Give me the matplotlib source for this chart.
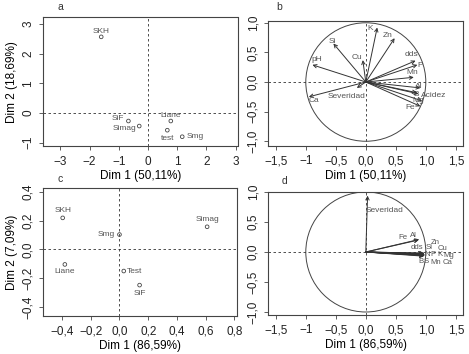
import numpy as np
import matplotlib
matplotlib.use("Agg")
import matplotlib.pyplot as plt
from matplotlib.patches import Circle

plt.rcParams['font.family'] = ['Liberation Sans', 'DejaVu Sans']

# ---- panel a : individuos, PCA 1 ----
ind_a = ['SKH', 'SiF', 'Simag', 'Liane', 'test', 'Smg']
ind_a_x = [-1.60, -0.67, -0.30, 0.78, 0.66, 1.17]
ind_a_y = [2.57, -0.27, -0.44, -0.27, -0.58, -0.80]

# ---- panel b : variables, PCA 1 ----
var_b = ['K', 'Zn', 'Si', 'Cu', 'pH', 'dds', 'P', 'Mn', 'Al', 'B',
         'Acidez', 'Mg', 'Fe', 'Ca', 'Severidad']
var_b_x = [0.19, 0.48, -0.54, -0.05, -0.89, 0.83, 0.86, 0.80, 0.91, 0.85,
           0.88, 0.94, 0.91, -0.95, -0.15]
var_b_y = [0.92, 0.74, 0.65, 0.37, 0.29, 0.36, 0.29, 0.08, -0.10, -0.18,
           -0.20, -0.32, -0.41, -0.25, -0.10]

# ---- panel c : individuos, PCA 2 ----
ind_c = ['SKH', 'Simag', 'Smg', 'Liane', 'Test', 'SiF']
ind_c_x = [-0.395, 0.61, 0.0, -0.38, 0.03, 0.14]
ind_c_y = [0.22, 0.158, 0.104, -0.104, -0.15, -0.248]

# ---- panel d : variables, PCA 2 ----
var_d = ['Severidad', 'Fe', 'Al', 'dds', 'Si', 'Zn', 'Cu', 'N', 'P', 'K',
         'Mg', 'B', 'S', 'Mn', 'Ca']
var_d_x = [0.03, 0.88, 0.89, 0.95, 0.97, 0.98, 0.98, 0.98, 0.98, 0.98,
           0.99, 0.97, 0.97, 0.98, 0.98]
var_d_y = [0.94, 0.20, 0.21, -0.02, -0.02, -0.03, -0.04, -0.04, -0.05, -0.04,
           -0.05, -0.07, -0.06, -0.06, -0.05]

# label placement (offsets in points from the marker / arrow tip)
off_a = [(0, 4, 'center'), (-3, 1.5, 'right'), (-2, -2, 'right'), (0, 4, 'center'),
         (0, -6, 'center'), (3, 0, 'left')]
off_c = [(0, 5, 'center'), (0, 5, 'center'), (-3, 0, 'right'), (0, -5, 'center'),
         (2, 0, 'left'), (0, -6, 'center')]
lab_b = {'K': (0.08, 0.90), 'Zn': (0.37, 0.78), 'Si': (-0.55, 0.69), 'Cu': (-0.14, 0.41),
         'pH': (-0.81, 0.38), 'dds': (0.76, 0.46), 'P': (0.90, 0.28), 'Mn': (0.78, 0.16),
         'Al': (0.88, -0.07), 'B': (0.84, -0.21), 'Acidez': (1.13, -0.22), 'Mg': (0.87, -0.31),
         'Fe': (0.74, -0.43), 'Ca': (-0.86, -0.32), 'Severidad': (-0.32, -0.25)}
lab_d = {'Severidad': (0.32, 0.69), 'Fe': (0.62, 0.24), 'Al': (0.79, 0.27), 'dds': (0.86, 0.07),
         'Si': (1.06, 0.07), 'Zn': (1.16, 0.15), 'Cu': (1.28, 0.06), 'N': (1.02, -0.04),
         'P': (1.12, -0.04), 'K': (1.23, -0.04), 'Mg': (1.39, -0.06), 'B': (0.92, -0.16),
         'S': (1.01, -0.16), 'Mn': (1.16, -0.17), 'Ca': (1.36, -0.18)}

W, H = 469, 354
fig = plt.figure(figsize=(W / 100, H / 100), dpi=100)

def make_ax(x0, y0, x1, y1):
    # pixel box (from top-left) -> figure axes
    return fig.add_axes([x0 / W, 1 - y1 / H, (x1 - x0) / W, (y1 - y0) / H])

frame = '#444444'
txt = '#555555'

def style(ax, xt, xl, yt, yl, xlim, ylim):
    ax.set_xlim(*xlim)
    ax.set_ylim(*ylim)
    ax.set_xticks(xt)
    ax.set_xticklabels(xl)
    ax.set_yticks(yt)
    ax.set_yticklabels(yl, rotation=90, va='center')
    ax.tick_params(length=3, width=0.6, color=frame, labelsize=8.5, pad=3.5,
                   labelcolor='#222222')
    for s in ax.spines.values():
        s.set_color(frame)
        s.set_linewidth(0.8)
    ax.axhline(0, color='#333333', lw=0.6, ls=(0, (3, 3)))
    ax.axvline(0, color='#333333', lw=0.6, ls=(0, (3, 3)))

def fmt(v):
    return f"{v:.1f}".replace('.', ',').replace('-', '\u2212')

ax_a = make_ax(43.3, 17.3, 237.5, 146.5)
ax_b = make_ax(268.3, 21, 463.3, 146)
ax_c = make_ax(43.3, 188, 237.3, 316)
ax_d = make_ax(268.3, 192, 463.3, 315)

# panel a
style(ax_a, range(-3, 4), [str(v).replace('-', '\u2212') for v in range(-3, 4)],
      range(-1, 4), [str(v).replace('-', '\u2212') for v in range(-1, 4)],
      (-3.58, 3.06), (-1.13, 3.23))
ax_a.scatter(ind_a_x, ind_a_y, s=7, facecolors='none', edgecolors='#444444', lw=0.6)
for n, x, y, (dx, dy, ha) in zip(ind_a, ind_a_x, ind_a_y, off_a):
    ax_a.annotate(n, (x, y), xytext=(dx, dy), textcoords='offset points',
                  ha=ha, va='center', fontsize=6, color=txt)
ax_a.set_xlabel('Dim 1 (50,11%)', fontsize=8.5, labelpad=2)
ax_a.set_ylabel('Dim 2 (18,69%)', fontsize=8.5, labelpad=3)

# panel c
cx = [-0.4, -0.2, 0.0, 0.2, 0.4, 0.6, 0.8]
cy = [-0.4, -0.2, 0.0, 0.2, 0.4]
style(ax_c, cx, [fmt(v) for v in cx], cy, [fmt(v) for v in cy],
      (-0.53, 0.82), (-0.463, 0.428))
ax_c.scatter(ind_c_x, ind_c_y, s=7, facecolors='none', edgecolors='#444444', lw=0.6)
for n, x, y, (dx, dy, ha) in zip(ind_c, ind_c_x, ind_c_y, off_c):
    ax_c.annotate(n, (x, y), xytext=(dx, dy), textcoords='offset points',
                  ha=ha, va='center', fontsize=6, color=txt)
ax_c.set_xlabel('Dim 1 (86,59%)', fontsize=8.5, labelpad=2)
ax_c.set_ylabel('Dim 2 (7,09%)', fontsize=8.5, labelpad=3)

# panels b and d
vx = [-1.5, -1.0, -0.5, 0.0, 0.5, 1.0, 1.5]
vxl = ['\u22121,5', '\u22121', '\u22120,5', '0,0', '0,5', '1,0', '1,5']
vy = [-1.0, -0.5, 0.0, 0.5, 1.0]
for ax, names, xs, ys, labs, ylim, xlab, fs in [
        (ax_b, var_b, var_b_x, var_b_y, lab_b, (-1.08, 1.03), 'Dim 1 (50,11%)', 6),
        (ax_d, var_d, var_d_x, var_d_y, lab_d, (-1.05, 1.0), 'Dim 1 (86,59%)', 5.6)]:
    style(ax, vx, vxl, vy, [fmt(v) for v in vy], (-1.625, 1.625), ylim)
    ax.add_patch(Circle((0, 0), 1, fill=False, color='#444444', lw=0.7))
    for n, x, y in zip(names, xs, ys):
        ax.annotate('', xy=(x, y), xytext=(0, 0),
                    arrowprops=dict(arrowstyle='->', color='#333333', lw=0.7,
                                    shrinkA=0, shrinkB=0, mutation_scale=6))
        lx, ly = labs[n]
        ax.text(lx, ly, n, fontsize=6 if n == 'Severidad' else fs, color=txt,
                ha='center', va='center')
    ax.set_xlabel(xlab, fontsize=8.5, labelpad=2)

for s, x, y in [('a', 60, 7), ('b', 279, 7), ('c', 60, 179), ('d', 284, 181)]:
    fig.text(x / W, 1 - y / H, s, fontsize=7.5, ha='center', va='center', color='#333333')

fig.savefig('out.png', dpi=100)
